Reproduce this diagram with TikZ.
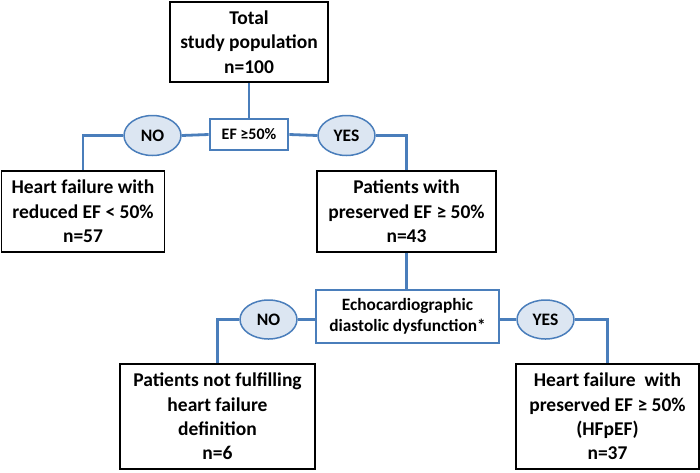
\documentclass[tikz,border=0pt]{standalone}
\usepackage{fontspec}
\setmainfont{Carlito}
\usetikzlibrary{shapes.geometric}
\definecolor{lineblue}{HTML}{4A7EBB}
\definecolor{ellfill}{HTML}{DCE6F2}
\tikzset{
  bigbox/.style={draw=black, line width=1.8pt, fill=white, align=center, inner sep=0pt,
    font=\bfseries\fontsize{19.5}{24.3}\selectfont},
  condbox/.style={draw=lineblue, line width=2.8pt, fill=white, align=center, inner sep=0pt,
    font=\bfseries\fontsize{17.3}{21}\selectfont},
  answer/.style={ellipse, draw=lineblue, line width=1.5pt, fill=ellfill, inner sep=0pt,
    minimum width=57pt, minimum height=40pt, font=\bfseries\fontsize{17.5}{20}\selectfont},
  conn/.style={draw=lineblue, line width=2.8pt}
}
\begin{document}
\begin{tikzpicture}[x=1pt,y=-1pt]
\useasboundingbox (0,0) rectangle (700,472);
% nodes
\node[bigbox, minimum width=158pt, minimum height=80pt] (top) at (249,42) {Total\\study population\\n=100};
\node[condbox, minimum width=78pt, minimum height=31pt, font=\bfseries\fontsize{16}{19}\selectfont] (ef) at (249,134.5) {EF ≥50\%};
\node[answer] (no1) at (152.5,135.5) {NO};
\node[answer] (yes1) at (346.5,135.5) {YES};
\node[bigbox, minimum width=163pt, minimum height=81pt] (left1) at (83,211.5) {Heart failure with\\reduced EF < 50\%\\n=57};
\node[bigbox, minimum width=179pt, minimum height=81pt] (pres) at (406.5,211.5) {Patients with\\preserved EF ≥ 50\%\\n=43};
\node[condbox, minimum width=183pt, minimum height=53pt] (echo) at (407.5,316.5) {Echocardiographic\\diastolic dysfunction*};
\node[answer, minimum height=39pt] (no2) at (268.5,319.5) {NO};
\node[answer, minimum height=39pt] (yes2) at (545.5,319.5) {YES};
\node[bigbox, minimum width=195pt, minimum height=105pt] (left2) at (217.5,416.5) {Patients not fulfilling\\heart failure\\definition\\n=6};
\node[bigbox, minimum width=183pt, minimum height=105pt] (right2) at (607.5,416.5) {Heart failure\ \ with\\preserved EF ≥ 50\%\\(HFpEF)\\n=37};
% connectors
\draw[conn] (top.south) -- (ef.north);
\draw[conn] (ef.west) -- (no1.east);
\draw[conn] (no1.west) -| (left1.north);
\draw[conn] (ef.east) -- (yes1.west);
\draw[conn] (yes1.east) -| (pres.north);
\draw[conn] (pres.south) -- (pres.south |- echo.north);
\draw[conn] (no2.east) -- (no2.east -| echo.west);
\draw[conn] (no2.west) -| (left2.north);
\draw[conn] (yes2.west) -- (yes2.west -| echo.east);
\draw[conn] (yes2.east) -| (right2.north);
\end{tikzpicture}
\end{document}
